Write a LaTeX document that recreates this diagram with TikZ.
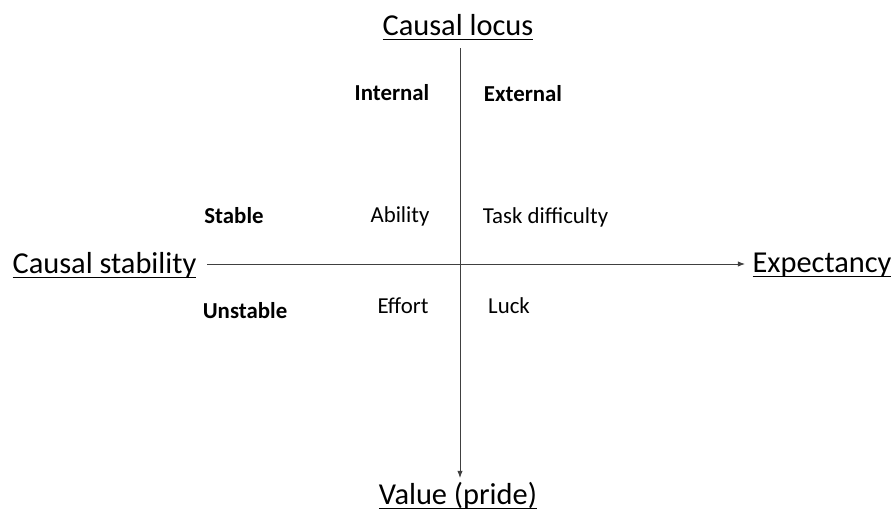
\documentclass[tikz,border=0pt]{standalone}
\usepackage{amsmath}
\usepackage{fontspec}
\setmainfont{Carlito}
\usetikzlibrary{positioning}
\usetikzlibrary{arrows.meta}

\newcommand{\axislabel}[1]{\underline{\smash[b]{#1}}}

\begin{document}
\begin{tikzpicture}[
        x = 0.02cm,
        y = -0.02cm,
        pole/.style = {
            anchor = base,
            inner sep = 0pt,
            font = \fontsize{17.3}{20}\selectfont
        },
        cell/.style = {
            anchor = base,
            inner sep = 0pt,
            font = \fontsize{13}{15}\selectfont
        },
        head/.style = {
            cell,
            font = \fontsize{13}{15}\selectfont\bfseries
        },
        axis/.style = {
            line width = 0.5pt,
            draw = black!75,
            -{Latex[length=4pt, width=3pt]}
        }
        ]
%
        \useasboundingbox (0,0) rectangle (893,518);
%
        \node[pole] (locus) at (458,35) {\axislabel{Causal locus}};
        \node[pole] (value) at (458,504) {\axislabel{Value (pride)}};
        \node[pole] (stab) at (104.5,273) {\axislabel{Causal stability}};
        \node[pole] (expect) at (822,272) {\axislabel{Expectancy}};
%
        \coordinate (top) at (460,48);
        \coordinate (bottom) at (460,478);
        \coordinate (left) at (207,264);
        \coordinate (right) at (745,264);
%
        \node[head] (int) at (392,100) {Internal};
        \node[head] (ext) at (523,101) {External};
        \node[head] (stable) at (234,223) {Stable};
        \node[head] (unstable) at (245,318) {Unstable};
%
        \node[cell] (ability) at (400,222) {Ability};
        \node[cell] (task) at (545.5,223) {Task difficulty};
        \node[cell] (effort) at (403,313) {Effort};
        \node[cell] (luck) at (509,313) {Luck};
%
        \draw[axis] (top) -- (bottom);
        \draw[axis] (left) -- (right);
    \end{tikzpicture}
\end{document}
